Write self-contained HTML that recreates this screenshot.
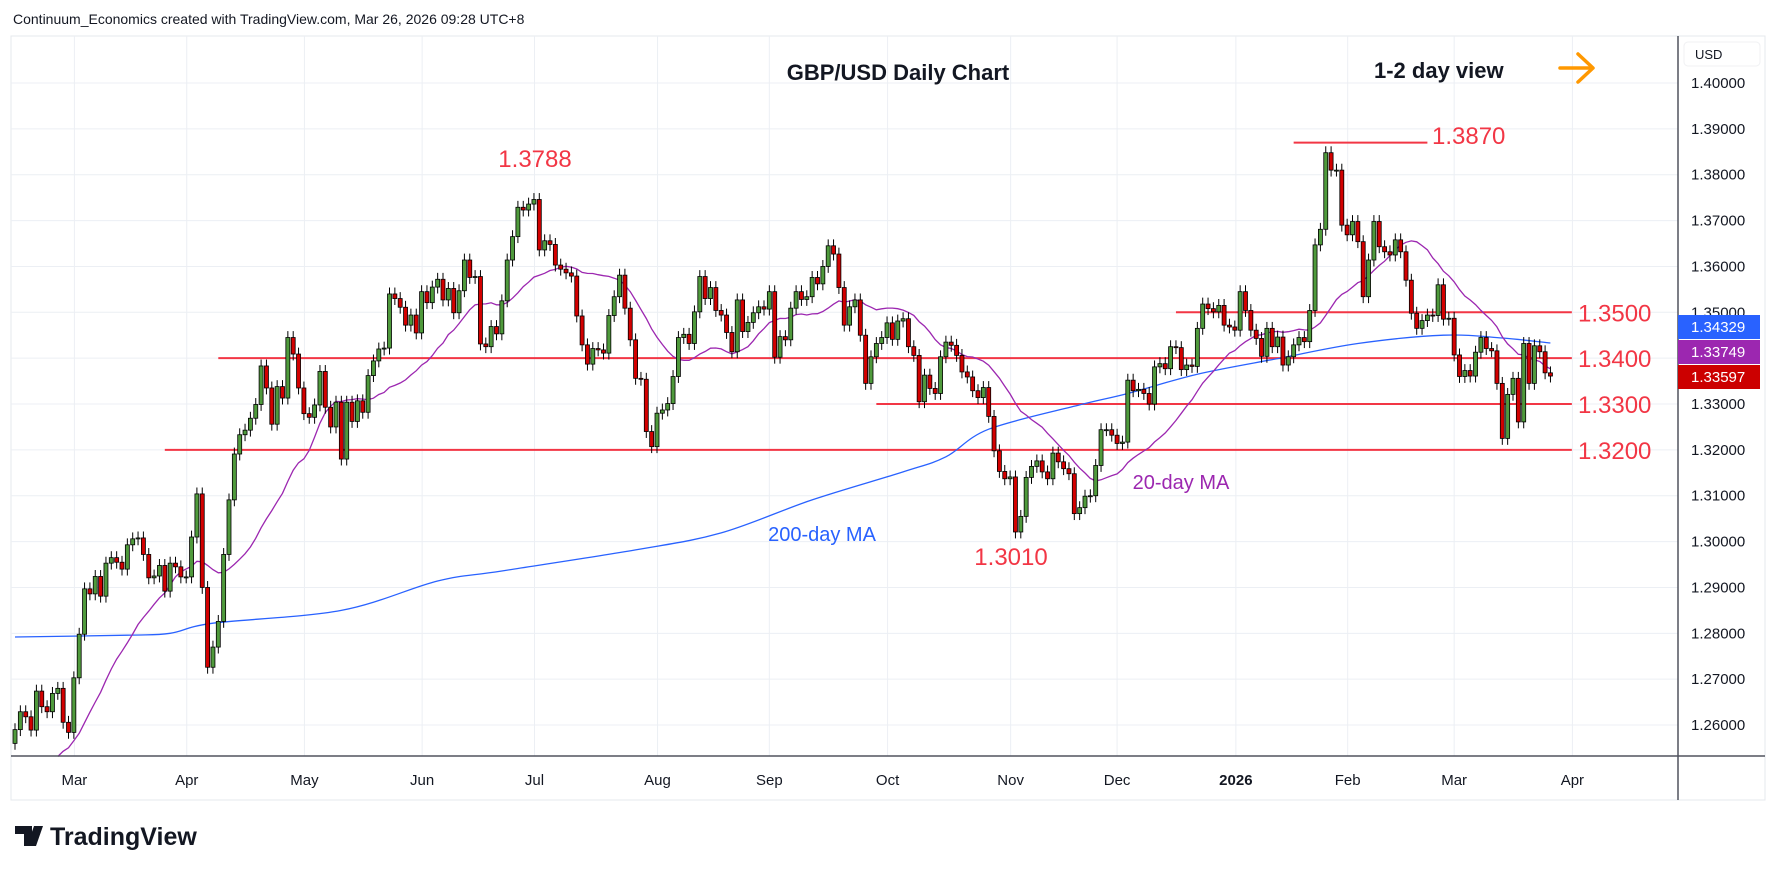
<!DOCTYPE html>
<html><head><meta charset="utf-8"><style>
html,body{margin:0;padding:0;background:#fff;}
svg{display:block;font-family:"Liberation Sans",sans-serif;}
</style></head><body>
<svg id="chart" width="1778" height="873" viewBox="0 0 1778 873">
<rect x="0" y="0" width="1778" height="873" fill="#fff"/>
<text x="13" y="24" font-size="14" fill="#131722">Continuum_Economics created with TradingView.com, Mar 26, 2026 09:28 UTC+8</text>
<rect x="11" y="36" width="1754" height="764" fill="none" stroke="#e6e8ec" stroke-width="1"/>
<g id="grid"></g>
<g id="levels"></g>
<g id="mas"></g>
<g id="candles"></g>
<line x1="1678" y1="36" x2="1678" y2="800" stroke="#50535e" stroke-width="1.5"/>
<line x1="11" y1="756" x2="1765" y2="756" stroke="#50535e" stroke-width="1.5"/>
<g id="yaxis"></g>
<g id="xaxis"></g>
<rect x="1684" y="42" width="76" height="24" rx="4" fill="#fff" stroke="#f0f1f3"/>
<text x="1695" y="59" font-size="13" fill="#131722">USD</text>
<text x="898" y="80" font-size="22" font-weight="bold" fill="#131722" text-anchor="middle">GBP/USD Daily Chart</text>
<text x="1374" y="78" font-size="22" font-weight="bold" fill="#131722">1-2 day view</text>
<g stroke="#ff9800" stroke-width="3.5" fill="none" stroke-linecap="round" stroke-linejoin="round">
<line x1="1560" y1="68" x2="1592" y2="68"/><polyline points="1578,54 1593,68 1578,82"/></g>
<text x="535" y="167" font-size="24" fill="#f23645" text-anchor="middle">1.3788</text>
<text x="1011" y="565" font-size="24" fill="#f23645" text-anchor="middle">1.3010</text>
<text x="1432" y="144" font-size="24" fill="#f23645">1.3870</text>
<text x="822" y="541" font-size="20" fill="#2962ff" text-anchor="middle">200-day MA</text>
<text x="1181" y="489" font-size="20" fill="#9c27b0" text-anchor="middle">20-day MA</text>
<g>
<path d="M15 826h17v20h-8v-12h-9z M34 826h9l-7 20h-9z" fill="#131722"/>
<text x="50" y="845" font-size="25" font-weight="bold" fill="#131722">TradingView</text></g>
</svg>
<script>
const closes = [
1.2590,1.2629,1.2618,1.2589,1.2674,1.2640,1.2629,1.2669,1.2680,1.2606,1.2584,
1.2703,1.2798,1.2897,1.2886,1.2924,1.2881,1.2953,1.2965,1.2955,1.2940,1.2993,1.3006,
1.3008,1.2972,1.2921,1.2925,1.2948,1.2892,1.2953,1.2945,1.2923,1.2923,
1.3010,1.3104,1.2900,1.2726,1.2770,1.2826,1.2972,1.3091,1.3191,1.3233,
1.3243,1.3269,1.3299,1.3383,1.3335,1.3256,1.3338,1.3313,1.3445,1.3409,
1.3335,1.3279,1.3271,1.3298,1.3371,1.3293,1.3250,1.3304,1.3180,1.3304,
1.3262,1.3307,1.3282,1.3362,1.3394,1.3420,1.3422,1.3540,1.3530,1.3511,
1.3472,1.3494,1.3455,1.3545,1.3521,1.3555,1.3572,
1.3527,1.3552,1.3499,1.3547,1.3614,1.3576,1.3578,1.3431,1.3425,1.3469,
1.3453,1.3525,1.3614,1.3665,1.3729,1.3723,1.3736,1.3746,1.3636,1.3656,
1.3648,1.3603,1.3594,1.3586,1.3579,1.3492,1.3429,1.3387,1.3421,1.3418,
1.3411,1.3493,1.3534,1.3581,1.3509,1.3440,1.3356,1.3354,1.3240,1.3207,
1.3280,1.3287,1.3301,1.3360,1.3445,1.3452,1.3432,1.3501,1.3578,1.3530,
1.3554,1.3504,1.3494,1.3456,1.3414,1.3527,1.3458,1.3478,1.3499,1.3512,
1.3507,1.3545,1.3402,1.3447,1.3440,1.3509,1.3545,1.3528,1.3534,1.3576,
1.3562,1.3600,1.3645,1.3627,1.3554,1.3472,1.3512,1.3527,
1.3450,1.3345,1.3403,1.3432,1.3445,1.3477,1.3441,1.3481,1.3486,1.3425,
1.3406,1.3305,1.3363,1.3334,1.3323,1.3403,1.3435,1.3428,1.3406,1.3370,
1.3359,1.3329,1.3314,1.3336,1.3273,1.3198,1.3153,1.3137,1.3141,1.3021,
1.3055,1.3140,1.3164,1.3176,1.3152,1.3137,1.3193,1.3174,1.3159,1.3148,
1.3061,1.3074,1.3099,1.3100,1.3166,1.3244,1.3244,1.3232,1.3214,1.3217,
1.3352,1.3329,1.3332,1.3323,1.3300,1.3381,1.3388,1.3377,1.3425,1.3423,
1.3375,1.3385,1.3382,1.3465,1.3518,1.3508,1.3501,1.3515,1.3472,1.3468,
1.3461,1.3545,1.3504,1.3461,1.3443,1.3404,1.3465,1.3425,1.3446,
1.3385,1.3403,1.3429,1.3445,1.3436,1.3504,1.3647,1.3681,1.3848,1.3810,
1.3810,1.3690,1.3669,1.3698,1.3654,1.3534,1.3614,1.3698,1.3643,1.3632,
1.3625,1.3658,1.3632,1.3570,1.3498,1.3465,1.3482,1.3494,1.3493,1.3560,
1.3485,1.3487,1.3407,1.3360,1.3373,1.3361,1.3413,1.3445,1.3421,1.3416,
1.3345,1.3225,1.3321,1.3356,1.3261,1.3432,1.3345,1.3427,1.3414,1.3368,1.3361
];
const firstOpen = 1.2560;
const priorCloses = [1.2210,1.2170,1.2230,1.2310,1.2350,1.2480,1.2450,1.2440,1.2380,1.2430,1.2400,1.2470,1.2440,1.2420,1.2480,1.2460,1.2430,1.2470,1.2530];
const ma200Idx = [0,21,29,37,61,79,91,116,132,149,166,174,182,199,208,221,236,251,267,278,287];
const ma200Val = [1.2792,1.2796,1.2800,1.2822,1.2850,1.2914,1.2936,1.2982,1.3019,1.3091,1.3152,1.3185,1.3245,1.3298,1.3323,1.3365,1.3399,1.3432,1.3450,1.3444,1.3433];
const monthLabels = ["Mar","Apr","May","Jun","Jul","Aug","Sep","Oct","Nov","Dec","2026","Feb","Mar","Apr"];
const monthIdx = [11.1,32.1,54.1,76.1,97.1,120.1,141,163.1,186.1,206,228.2,249.1,269,291.1];
const priceTicks = [1.40,1.39,1.38,1.37,1.36,1.35,1.34,1.33,1.32,1.31,1.30,1.29,1.28,1.27,1.26];
const levelVals = [1.3870,1.3500,1.3400,1.3300,1.3200];
const levelStartIdx = [239,217,38,161,28];
const levelEndIdx = [264,291,291,291,291];
const levelLabels = ["","1.3500","1.3400","1.3300","1.3200"];
const tagVals = ["1.34329","1.33749","1.33597"];

const NS="http://www.w3.org/2000/svg";
function X(i){return 15+i*5.35;}
function Y(p){return 83+(1.40-p)*4586;}
function mk(tag,attrs,parent){const e=document.createElementNS(NS,tag);for(const k in attrs)e.setAttribute(k,attrs[k]);parent.appendChild(e);return e;}
const grid=document.getElementById('grid'),levels=document.getElementById('levels'),mas=document.getElementById('mas'),cg=document.getElementById('candles'),yaxis=document.getElementById('yaxis'),xaxis=document.getElementById('xaxis');

priceTicks.forEach((p,k)=>{
  const l=mk('line',{x1:11,x2:1678,y1:Y(p),y2:Y(p),stroke:'#eceff4','stroke-width':1},grid);
  
  
  const t=mk('text',{x:1691,y:Y(p)+5,'font-size':15,fill:'#131722'},yaxis);
  t.textContent=p.toFixed(5);
  
  
});
monthLabels.forEach((m,k)=>{
  const x=X(monthIdx[k]);
  const l=mk('line',{x1:x,x2:x,y1:36,y2:756,stroke:'#eceff4','stroke-width':1},grid);
  
  
  const t=mk('text',{x:x,y:785,'font-size':15,fill:'#131722','text-anchor':'middle','font-weight':m==='2026'?'bold':'normal'},xaxis);
  t.textContent=m;
  
  
});
levelVals.forEach((v,k)=>{
  const l=mk('line',{x1:X(levelStartIdx[k]),x2:X(levelEndIdx[k]),y1:Y(v),y2:Y(v),stroke:'#f23645','stroke-width':2},levels);
  
  
  if(levelLabels[k]){
    const t=mk('text',{x:1578,y:Y(v)+9,'font-size':24,fill:'#f23645'},levels);
    t.textContent=levelLabels[k];
    
    
  }
});
// MA200 smooth (Catmull-Rom)
const pts=ma200Idx.map((i,k)=>[X(i),Y(ma200Val[k])]);
let d='M'+pts[0][0].toFixed(1)+' '+pts[0][1].toFixed(1);
for(let k=0;k<pts.length-1;k++){
  const p0=pts[Math.max(0,k-1)],p1=pts[k],p2=pts[k+1],p3=pts[Math.min(pts.length-1,k+2)];
  const c1=[p1[0]+(p2[0]-p0[0])/6,p1[1]+(p2[1]-p0[1])/6],c2=[p2[0]-(p3[0]-p1[0])/6,p2[1]-(p3[1]-p1[1])/6];
  d+='C'+c1[0].toFixed(1)+' '+c1[1].toFixed(1)+' '+c2[0].toFixed(1)+' '+c2[1].toFixed(1)+' '+p2[0].toFixed(1)+' '+p2[1].toFixed(1);
}
const m2=mk('path',{d:d,stroke:'#2962ff','stroke-width':1.3,fill:'none'},mas);


// MA20
const all=priorCloses.concat(closes);let d2='';
for(let i=0;i<closes.length;i++){let s=0;const j=i+priorCloses.length;for(let k=j-19;k<=j;k++)s+=all[k];const y=Y(s/20);if(y>757)continue;d2+=(d2?'L':'M')+X(i).toFixed(1)+' '+y.toFixed(1);}
const m20=mk('path',{d:d2,stroke:'#9c27b0','stroke-width':1.3,fill:'none'},mas);


// candles
closes.forEach((c,i)=>{
  const o=i?closes[i-1]:firstOpen;
  const hi=Math.max(o,c)+0.0014,lo=Math.min(o,c)-0.0014;
  const up=c>=o,x=X(i);
  const g=mk('g',{},cg);
  
  
  mk('line',{x1:x,x2:x,y1:Y(hi),y2:Y(lo),stroke:'#000','stroke-width':1},g);
  const top=Y(Math.max(o,c)),h=Math.max(1,Y(Math.min(o,c))-top);
  mk('rect',{x:x-2,y:top,width:4,height:h,fill:up?'#4f9a3c':'#d30000',stroke:'#000','stroke-width':0.8},g);
});
// price tags
const tagColors=['#2962ff','#9c27b0','#cc0000'],tagY=[315,340,365];
tagVals.forEach((v,k)=>{
  const r=mk('rect',{x:1678,y:tagY[k],width:82,height:24,fill:tagColors[k]},yaxis);
  
  
  const t=mk('text',{x:1691,y:tagY[k]+17,'font-size':15,fill:'#fff'},yaxis);
  t.textContent=v;
  
  
});
</script>
</body></html>
